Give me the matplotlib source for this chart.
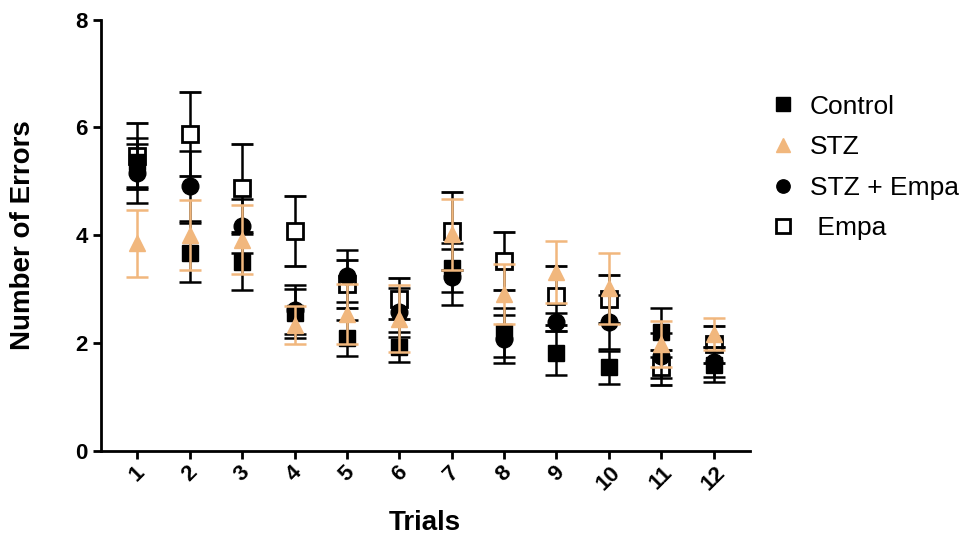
import matplotlib
matplotlib.use("Agg")
import matplotlib.pyplot as plt
import numpy as np

plt.rcParams['font.family'] = ['Liberation Sans', 'DejaVu Sans']

# Ensayos
trials = np.arange(1, 13)
trial_labels = [str(t) for t in trials]

# Medias y errores de cada grupo
control = [5.35, 3.68, 3.50, 2.55, 2.10, 1.93, 3.40, 2.20, 1.82, 1.55, 2.20, 1.60]
control_err = [0.45, 0.55, 0.52, 0.45, 0.33, 0.28, 0.45, 0.45, 0.41, 0.31, 0.45, 0.33]

stz = [3.85, 4.00, 3.92, 2.33, 2.54, 2.45, 4.02, 2.91, 3.32, 3.02, 1.98, 2.17]
stz_err = [0.62, 0.65, 0.64, 0.35, 0.56, 0.62, 0.66, 0.56, 0.58, 0.66, 0.43, 0.30]

stz_empa = [5.15, 4.92, 4.17, 2.62, 3.25, 2.57, 3.22, 2.08, 2.39, 2.40, 1.77, 1.65]
stz_empa_err = [0.55, 0.65, 0.50, 0.45, 0.48, 0.45, 0.52, 0.45, 0.16, 0.50, 0.42, 0.28]

empa = [5.47, 5.88, 4.88, 4.08, 3.10, 2.82, 4.08, 3.52, 2.88, 2.82, 1.55, 1.98]
empa_err = [0.62, 0.78, 0.82, 0.65, 0.45, 0.38, 0.72, 0.54, 0.55, 0.45, 0.33, 0.34]

orange = '#F1B77D'

fig = plt.figure(figsize=(9.63, 5.39), dpi=100)
ax = fig.add_axes([0.1046, 0.1633, 0.674, 0.8005])

common = dict(linestyle='none', capsize=8, elinewidth=1.8, capthick=1.8, markersize=12)

h_empa = ax.errorbar(trials, empa, yerr=empa_err, marker='s', color='black',
                     markerfacecolor='white', markeredgewidth=2, zorder=2, **common)
h_ctrl = ax.errorbar(trials, control, yerr=control_err, marker='s', color='black',
                     zorder=3, **common)
h_se = ax.errorbar(trials, stz_empa, yerr=stz_empa_err, marker='o', color='black',
                   zorder=4, **common)
h_stz = ax.errorbar(trials, stz, yerr=stz_err, marker='^', color=orange,
                    zorder=5, **common)

ax.set_xlim(0.3, 12.69)
ax.set_ylim(0, 8)
ax.set_yticks([0, 2, 4, 6, 8])
ax.set_xticks(trials)
ax.set_xticklabels(trial_labels, rotation=45, ha='center', va='top')

for s in ['top', 'right']:
    ax.spines[s].set_visible(False)
for s in ['left', 'bottom']:
    ax.spines[s].set_linewidth(2)
ax.tick_params(width=2, length=6, labelsize=16)
ax.tick_params(axis='x', pad=2)
for lab in ax.get_xticklabels() + ax.get_yticklabels():
    lab.set_fontweight('bold')

ax.set_xlabel('Trials', fontsize=20, fontweight='bold', labelpad=11)
ax.set_ylabel('Number of Errors', fontsize=20, fontweight='bold', labelpad=28)

leg = ax.legend([h_ctrl[0], h_stz[0], h_se[0], h_empa[0]],
                ['Control', 'STZ', 'STZ + Empa', ' Empa'],
                loc='upper left', bbox_to_anchor=(1.003, 0.869), frameon=False,
                fontsize=19, markerscale=0.8, handlelength=1.0,
                handletextpad=0.5, labelspacing=0.63, borderaxespad=0.3)

fig.savefig('out.png', dpi=100)
